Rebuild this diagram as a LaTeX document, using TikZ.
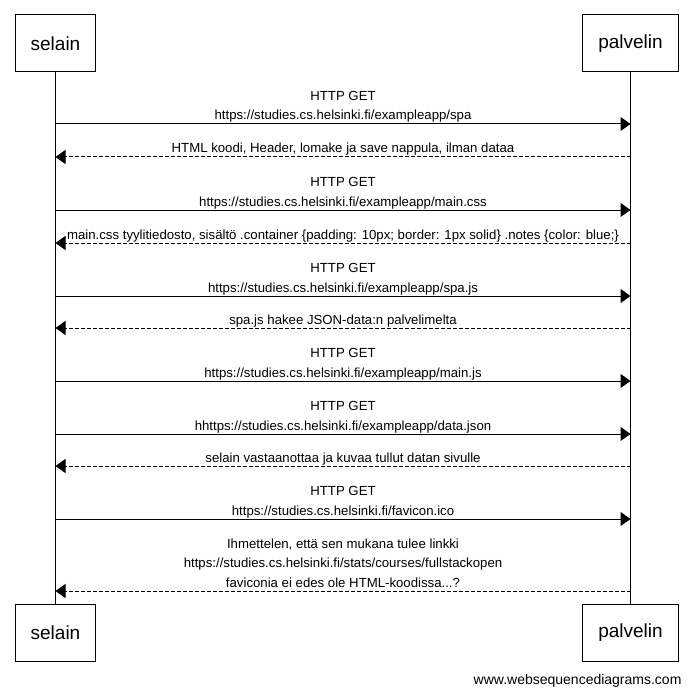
\documentclass[tikz,border=0pt]{standalone}
\usepackage{fontspec}
\setmainfont{Liberation Sans}
\usetikzlibrary{arrows.meta}
\tikzset{
  sd actor/.style={
    rectangle,
    draw,
    line width=1pt,
    minimum height=57pt,
    inner xsep=15.5pt,
    font=\fontsize{19}{22}\selectfont,
  },
  sd line/.style={line width=1pt},
  sd call/.style={-{Triangle[length=10pt,width=14pt]}, line width=1pt},
  sd reply/.style={sd call, dash pattern=on 4pt off 2pt},
  sd label/.style={
    midway,
    anchor=south,
    yshift=3.5pt,
    inner sep=0pt,
    text depth=0pt,
    align=center,
    font=\fontsize{13.2}{19.5}\selectfont,
  },
}

\begin{document}
\begin{tikzpicture}[x=1pt, y=-1pt]
  \useasboundingbox (0,0) rectangle (692,695);

  \node[sd actor] (selT) at (55.5,43.5) {selain};
  \node[sd actor] (palT) at (630.5,43.5) {palvelin};
  \node[sd actor] (selB) at (55.5,632.5) {selain};
  \node[sd actor] (palB) at (630.5,632.5) {palvelin};

  \draw[sd line] (selT) -- (selB);
  \draw[sd line] (palT) -- (palB);

  % message ends on the two lifelines
  \foreach \y [count=\i] in {124,157,210,243,296,328,381,434,466,519,591} {
    \coordinate (s\i) at (55.5,\y);
    \coordinate (p\i) at (630.5,\y);
  }

  \draw[sd call] (s1) -- node[sd label] {HTTP GET\\https://studies.cs.helsinki.fi/exampleapp/spa} (p1);
  \draw[sd reply] (p2) -- node[sd label] {HTML koodi, Header, lomake ja save nappula, ilman dataa} (s2);
  \draw[sd call] (s3) -- node[sd label] {HTTP GET\\https://studies.cs.helsinki.fi/exampleapp/main.css} (p3);
  \draw[sd reply] (p4) -- node[sd label] {main.css tyylitiedosto, sisältö .container \{padding: 10px; border: 1px solid\} .notes \{color: blue;\}} (s4);
  \draw[sd call] (s5) -- node[sd label] {HTTP GET\\https://studies.cs.helsinki.fi/exampleapp/spa.js} (p5);
  \draw[sd reply] (p6) -- node[sd label] {spa.js hakee JSON-data:n palvelimelta} (s6);
  \draw[sd call] (s7) -- node[sd label] {HTTP GET\\https://studies.cs.helsinki.fi/exampleapp/main.js} (p7);
  \draw[sd call] (s8) -- node[sd label] {HTTP GET\\hhttps://studies.cs.helsinki.fi/exampleapp/data.json} (p8);
  \draw[sd reply] (p9) -- node[sd label] {selain vastaanottaa ja kuvaa tullut datan sivulle} (s9);
  \draw[sd call] (s10) -- node[sd label] {HTTP GET\\https://studies.cs.helsinki.fi/favicon.ico} (p10);
  \draw[sd reply] (p11) -- node[sd label] {Ihmettelen, että sen mukana tulee linkki\\https://studies.cs.helsinki.fi/stats/courses/fullstackopen\\faviconia ei edes ole HTML-koodissa...?} (s11);

  \node[anchor=base east, font=\fontsize{14}{16}\selectfont] (credit) at (685,684) {www.websequencediagrams.com};
\end{tikzpicture}
\end{document}
